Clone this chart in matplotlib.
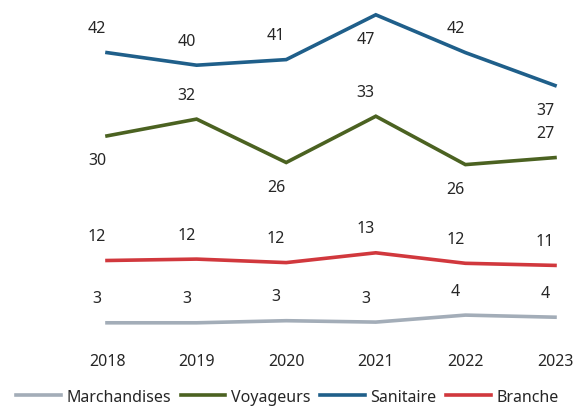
import matplotlib
matplotlib.use('Agg')
import matplotlib.pyplot as plt

# data
years = ['2018', '2019', '2020', '2021', '2022', '2023']
marchandises = [3.0, 3.0, 3.3, 3.1, 4.1, 3.8]
voyageurs = [29.7, 32.1, 25.9, 32.51, 25.6, 26.6]
sanitaire = [41.6, 39.8, 40.6, 47.0, 41.6, 36.9]
branche = [11.9, 12.1, 11.6, 13.0, 11.5, 11.2]

# label above (1) or below (-1) each point
lab_marchandises = [1, 1, 1, 1, 1, 1]
lab_voyageurs = [-1, 1, -1, 1, -1, 1]
lab_sanitaire = [1, 1, 1, -1, 1, -1]
lab_branche = [1, 1, 1, 1, 1, 1]

plt.rcParams['font.family'] = ['Noto Sans', 'DejaVu Sans']
txt = '#262626'

fig = plt.figure(figsize=(5.75, 4.1), dpi=100)
ax = fig.add_axes([0, 68 / 410, 1, 342 / 410])

series = [
    ('Marchandises', marchandises, lab_marchandises, '#a3adb8'),
    ('Voyageurs', voyageurs, lab_voyageurs, '#4b6221'),
    ('Sanitaire', sanitaire, lab_sanitaire, '#1f5f8a'),
    ('Branche', branche, lab_branche, '#d1383d'),
]

x = list(range(len(years)))
for name, vals, pos, col in series:
    ax.plot(x, vals, color=col, linewidth=2.6, label=name, clip_on=False,
            solid_joinstyle='miter')
    for xi, v, p in zip(x, vals, pos):
        ax.annotate('{:.0f}'.format(v), (xi, v), xytext=(-7.2, 17.5 * p),
                    textcoords='offset points', ha='center', va='center',
                    fontsize=11.5, color=txt)

ax.set_xlim(-107 / 89.6, (575 - 107) / 89.6)
ax.set_ylim(0.4, 342 / 7.0 + 0.4)
ax.set_xticks(x, years)
ax.tick_params(axis='x', length=0, pad=9, labelsize=11.5, labelcolor=txt)
ax.set_yticks([])
for s in ax.spines.values():
    s.set_visible(False)

fig.legend(loc='lower center', bbox_to_anchor=(0.5, -0.025), ncol=4, frameon=False,
           fontsize=11.5, handlelength=2.8, handletextpad=0.35, columnspacing=0.6,
           labelcolor=txt)

fig.savefig('out.png', dpi=100)
